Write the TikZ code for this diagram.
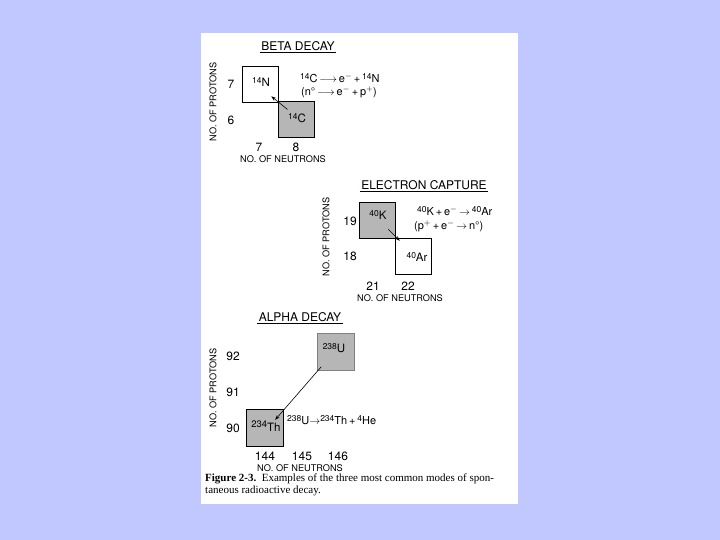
\documentclass[tikz,border=0pt]{standalone}
\usepackage{fontspec}
\setmainfont{Liberation Serif}
\setsansfont{TeX Gyre Heros}
\usetikzlibrary{arrows.meta, positioning, calc}
\definecolor{slide}{RGB}{192,200,255}
\definecolor{stipple}{RGB}{182,182,182}
\tikzset{
  ttl/.style={font=\sffamily\fontsize{12}{13}\selectfont, inner sep=1.5pt},
  axis/.style={font=\sffamily\fontsize{9.2}{10}\selectfont, inner sep=0pt},
  num/.style={font=\sffamily\fontsize{12}{13}\selectfont, inner sep=0pt},
  iso/.style={font=\sffamily\fontsize{11.5}{12}\selectfont, inner sep=0pt},
  eqn/.style={font=\sffamily\fontsize{11}{12}\selectfont, inner sep=0pt, anchor=west},
  cell/.style={rectangle, draw, line width=0.5pt, minimum size=36pt, inner sep=0pt},
  hot/.style={cell, fill=stipple},
  decay/.style={-{Stealth[length=5pt, width=3.5pt]}, line width=0.6pt},
}
\newcommand{\iso}[2]{\raisebox{0.6ex}{\fontsize{8.5}{9}\selectfont #1}#2}
\begin{document}
\begin{tikzpicture}[x=1pt, y=-1pt]

% Folie und Seite
\fill[slide] (0,0) rectangle (720,540);
\useasboundingbox (0,0) rectangle (720,540);
\fill[white] (201,33) rectangle (518,504);

% ========== Beta-Zerfall ==========
\node[ttl] (betaTitle) at (298,46) {BETA DECAY};
\draw[line width=0.5pt] (betaTitle.south west) -- (betaTitle.south east);
\node[axis, rotate=90] (betaP) at (213,102) {NO. OF PROTONS};
\node[num] (betaP7) at (231,84) {7};
\node[num] (betaP6) at (231,120) {6};
\node[cell] (n14) at (260,84) {};
\node[hot, line width=1pt] (c14) at (296,120) {};
\node[iso] (n14lbl) at (261,82) {\iso{14}{N}};
\node[iso] (c14lbl) at (297,118) {\iso{14}{C}};
\node[num] (betaN7) at (259,147) {7};
\node[num] (betaN8) at (296,147) {8};
\node[axis] (betaN) at (283,159) {NO. OF NEUTRONS};
\node[eqn] (betaEq1) at (300,78) {\iso{14}{C}\,$\longrightarrow$\,e$^-$\,+\,\iso{14}{N}};
\node[eqn] (betaEq2) at (301,92) {(n°\,$\longrightarrow$\,e$^-$\,+\,p$^+$)};
\draw[decay] ($(c14.north west)+(10,8)$) -- ($(n14.south east)+(-7,-6)$);

% ========== Elektroneneinfang ==========
\node[ttl] (ecTitle) at (424,185) {ELECTRON CAPTURE};
\draw[line width=0.5pt] (ecTitle.south west) -- (ecTitle.south east);
\node[axis, rotate=90] (ecP) at (326,237) {NO. OF PROTONS};
\node[num] (ecP19) at (350,221) {19};
\node[num] (ecP18) at (350,256) {18};
\node[hot] (k40) at (377,220) {};
\node[cell] (ar40) at (413,256) {};
\node[iso] (k40lbl) at (378,215) {\iso{40}{K}};
\node[iso] (ar40lbl) at (417,257) {\iso{40}{Ar}};
\node[num] (ecN21) at (373,286) {21};
\node[num] (ecN22) at (408,286) {22};
\node[axis] (ecN) at (400,298) {NO. OF NEUTRONS};
\node[eqn] (ecEq1) at (417,211) {\iso{40}{K}\,+\,e$^-$\,$\rightarrow$\,\iso{40}{Ar}};
\node[eqn] (ecEq2) at (414,226) {(p$^+$\,+\,e$^-$\,$\rightarrow$\,n°)};
\draw[decay] ($(k40.south east)+(-7,-9)$) -- ($(ar40.north west)+(5,3)$);

% ========== Alpha-Zerfall ==========
\node[ttl] (alphaTitle) at (300,317) {ALPHA DECAY};
\draw[line width=0.5pt] (alphaTitle.south west) -- (alphaTitle.south east);
\node[axis, rotate=90] (alphaP) at (213,388) {NO. OF PROTONS};
\node[num] (alphaP92) at (233,356) {92};
\node[num] (alphaP91) at (233,392) {91};
\node[num] (alphaP90) at (233,428) {90};
\node[hot, draw=gray, minimum size=37pt] (u238) at (336,352) {};
\node[hot, line width=1.2pt, minimum size=37pt] (th234) at (265,428) {};
\node[iso] (u238lbl) at (334,348) {\iso{238}{U}};
\node[iso] (th234lbl) at (266,426) {{\fontsize{9.5}{10}\selectfont 234}\raisebox{-4pt}{Th}};
\node[num] (alphaN144) at (265,456) {144};
\node[num] (alphaN145) at (302,456) {145};
\node[num] (alphaN146) at (338,456) {146};
\node[axis] (alphaN) at (300,468) {NO. OF NEUTRONS};
\node[eqn] (alphaEq) at (287,420) {\iso{238}{U}$\rightarrow$\iso{234}{Th}\,+\,\iso{4}{He}};
\draw[decay] ($(u238.south west)+(4,-4)$) -- ($(th234.north east)+(-9,11)$);

% Bildunterschrift
\node[anchor=north west, align=left, inner sep=0pt, font=\fontsize{11}{11.5}\selectfont]
  (caption) at (205,474) {\textbf{Figure 2-3.}\enspace Examples of the three most common modes of spon-\\taneous radioactive decay.};

\end{tikzpicture}
\end{document}
